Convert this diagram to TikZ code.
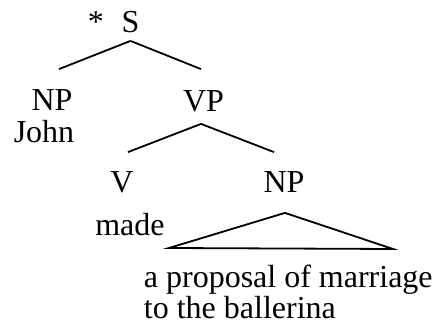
\documentclass[tikz,border=0pt]{standalone}
\usepackage{fontspec}
\setmainfont{Liberation Serif}
\usepackage{tikz}

\begin{document}
\begin{tikzpicture}[x=1pt,y=-1pt,line width=1.8pt,
  every node/.style={font=\fontsize{32}{31}\selectfont,inner sep=0pt},
  cat/.style={text height=21pt,text depth=0pt,anchor=base}]
  \useasboundingbox (0,0) rectangle (440,328);
  % labels
  \node[anchor=base] (star) at (96,33) {*};
  \node[cat] (s) at (130.5,33) {S};
  \node[cat] (np1) at (52,111) {NP};
  \node[anchor=base] (john) at (44,143) {John};
  \node[cat] (vp) at (203.5,112) {VP};
  \node[cat] (v) at (122,193) {V};
  \node[cat] (np2) at (284,193) {NP};
  \node[anchor=base] (made) at (130,236) {made};
  \node[anchor=base west,align=left] (phrase) at (143,319) {a proposal of marriage\\to the ballerina};
  \coordinate (tl) at (169,248);
  \coordinate (tr) at (393,249);
  % branches
  \draw ([yshift=-7pt]s.south) -- ([xshift=7pt,yshift=20pt]np1.north);
  \draw ([yshift=-7pt]s.south) -- ([xshift=-2.5pt,yshift=21pt]vp.north);
  \draw ([xshift=-2.5pt,yshift=-11pt]vp.south) -- ([xshift=6pt,yshift=19pt]v.north);
  \draw ([xshift=-2.5pt,yshift=-11pt]vp.south) -- ([xshift=-10pt,yshift=19pt]np2.north);
  \draw[line join=miter] ([xshift=1pt,yshift=-19pt]np2.south) -- (tl) -- (tr) -- cycle;
\end{tikzpicture}
\end{document}
